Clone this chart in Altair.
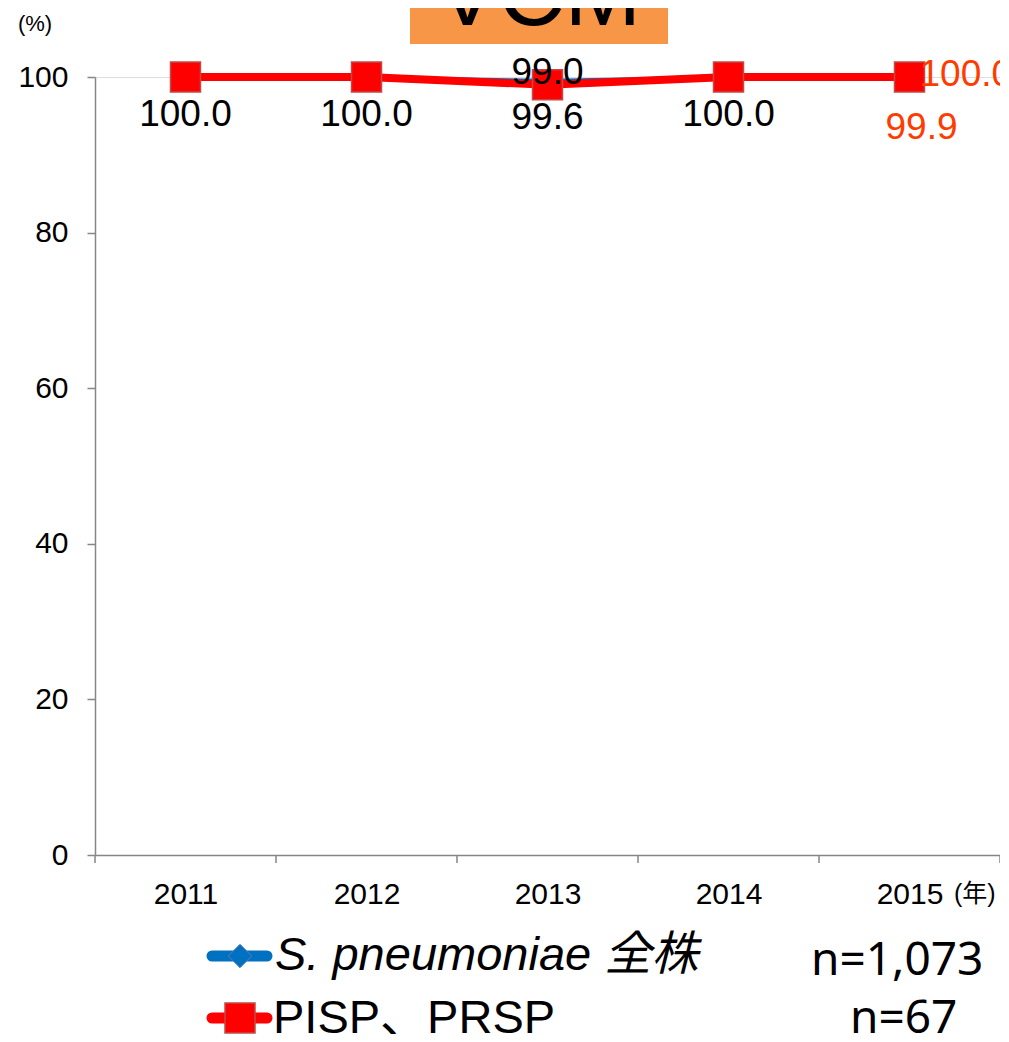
import altair as alt
import pandas as pd

years = [2011, 2012, 2013, 2014, 2015]
series_names = ["S. pneumoniae 全株", "PISP、PRSP"]
series_n = ["n=1,073", "n=67"]
all_vals = [100.0, 100.0, 99.6, 100.0, 99.9]
pisp_vals = [100.0, 100.0, 99.0, 100.0, 100.0]
y_ticks = [0, 20, 40, 60, 80, 100]
boundaries = [2010.5, 2011.5, 2012.5, 2013.5, 2014.5, 2015.5]
title_text = "VCM"
y_unit = "(%)"
x_unit = "(年)"

BLUE = "#0070C0"
RED = "#FF0000"
ORANGE = "#FF3C00"
FONT = "Liberation Sans, Noto Sans CJK JP"

df = pd.DataFrame({
    "year": years * 2,
    "series": [series_names[0]] * len(years) + [series_names[1]] * len(years),
    "value": all_vals + pisp_vals,
})
bdf = pd.DataFrame({"b": boundaries})
one = pd.DataFrame({"k": [0]})

xs = alt.Scale(domain=[2010.5, 2015.5], nice=False, zero=False)
ys = alt.Scale(domain=[0, 100], nice=False)

X = alt.X("year:Q", scale=xs, axis=alt.Axis(values=years, format="d", tickSize=0, grid=False,
                                            domainColor="#868686", domainWidth=1.5,
                                            labelFontSize=30, labelPadding=24, title=None,
                                            labelColor="black", labelFont=FONT))
Y = alt.Y("value:Q", scale=ys, axis=alt.Axis(values=y_ticks, tickSize=8, grid=False,
                                              domainColor="#868686", domainWidth=1.5,
                                              tickColor="#868686", tickWidth=1.5,
                                              labelFontSize=30, labelPadding=19, title=None,
                                              labelColor="black", labelFont=FONT))

base = alt.Chart(df)
blue_df = base.transform_filter(alt.datum.series == series_names[0])
red_df = base.transform_filter(alt.datum.series == series_names[1])

blue_line = blue_df.mark_line(color=BLUE, strokeWidth=2.5).encode(x=X, y=Y)
blue_pts = blue_df.mark_point(shape="diamond", filled=True, color=BLUE, size=300, opacity=1).encode(x=X, y=Y)
red_line = red_df.mark_line(color=RED, strokeWidth=8).encode(x=X, y=Y)
red_pts = red_df.mark_square(color=RED, size=900, opacity=1, stroke="#BE4B48", strokeWidth=1.5).encode(x=X, y=Y)

ticks = alt.Chart(bdf).mark_rule(color="#868686", strokeWidth=1.5).encode(
    x=alt.X("b:Q", scale=xs), y=alt.value(778), y2=alt.value(786))

lab = dict(font=FONT, fontSize=37)
blue_lab = blue_df.transform_filter(alt.datum.year < 2015).mark_text(
    dy=38, color="black", **lab).encode(x=X, y=Y, text=alt.Text("value:Q", format=".1f"))
blue_lab15 = blue_df.transform_filter(alt.datum.year == 2015).mark_text(
    dy=50, dx=12, color=ORANGE, **lab).encode(x=X, y=Y, text=alt.Text("value:Q", format=".1f"))
red_lab13 = red_df.transform_filter(alt.datum.year == 2013).mark_text(
    dy=-12, color="black", **lab).encode(x=X, y=Y, text=alt.Text("value:Q", format=".1f"))
red_lab15 = red_df.transform_filter(alt.datum.year == 2015).mark_text(
    dy=-2, dx=10, align="left", color=ORANGE, **lab).encode(x=X, y=Y, text=alt.Text("value:Q", format=".1f"))

# title box
c1 = alt.Chart(one)
title_box = c1.mark_rect(color="#F79646").encode(
    x=alt.value(315), x2=alt.value(573), y=alt.value(-80), y2=alt.value(-33))
title = c1.mark_text(fontSize=92, font=FONT, baseline="alphabetic", color="black").encode(
    x=alt.value(444), y=alt.value(-52), text=alt.value(title_text))
yunit = c1.mark_text(fontSize=22, font=FONT, color="black").encode(
    x=alt.value(-60), y=alt.value(-53), text=alt.value(y_unit))
xunit = c1.mark_text(fontSize=25, font=FONT, color="black", align="left").encode(
    x=alt.value(859), y=alt.value(817), text=alt.value(x_unit))

# legend
leg_blue_line = c1.mark_rule(color=BLUE, strokeWidth=11, strokeCap="round").encode(
    x=alt.value(117), x2=alt.value(172), y=alt.value(879))
leg_blue_pt = c1.mark_point(shape="diamond", filled=True, color=BLUE, size=550, opacity=1,
                            stroke="#4F81BD", strokeWidth=1).encode(x=alt.value(145), y=alt.value(879))
leg_blue_txt = c1.mark_text(fontSize=47, font=FONT, fontStyle="italic", align="left", color="black").encode(
    x=alt.value(180), y=alt.value(879), text=alt.value(series_names[0]))
leg_blue_n = c1.mark_text(fontSize=46, font="Noto Sans", align="left", color="black").encode(
    x=alt.value(716), y=alt.value(884), text=alt.value(series_n[0]))

leg_red_line = c1.mark_rule(color=RED, strokeWidth=11, strokeCap="round").encode(
    x=alt.value(117), x2=alt.value(172), y=alt.value(941))
leg_red_pt = c1.mark_square(color=RED, size=900, opacity=1, stroke="#BE4B48", strokeWidth=1.5).encode(
    x=alt.value(145), y=alt.value(941))
leg_red_txt = c1.mark_text(fontSize=47, font=FONT, align="left", color="black").encode(
    x=alt.value(178), y=alt.value(942), text=alt.value(series_names[1]))
leg_red_n = c1.mark_text(fontSize=46, font="Noto Sans", align="left", color="black").encode(
    x=alt.value(755), y=alt.value(942), text=alt.value(series_n[1]))

chart = alt.layer(
    ticks, blue_line, blue_pts, red_line, red_pts,
    blue_lab, blue_lab15, red_lab13, red_lab15,
    title_box, title, yunit, xunit,
    leg_blue_line, leg_blue_pt, leg_blue_txt, leg_blue_n,
    leg_red_line, leg_red_pt, leg_red_txt, leg_red_n,
).properties(
    width=905, height=778,
    autosize=alt.AutoSizeParams(type="none"),
    padding={"left": 87, "top": 69, "right": 0, "bottom": 179},
).configure_view(stroke=None).configure(background="white")

chart.save("out.html", embed_options={"renderer": "svg", "actions": False})
